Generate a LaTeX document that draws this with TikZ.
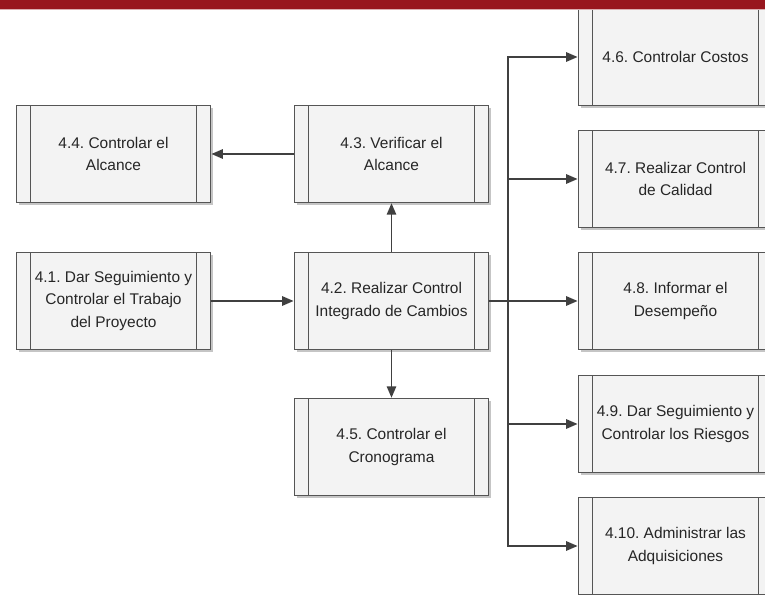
\documentclass[tikz,border=0pt]{standalone}
\usepackage{fontspec}
\setmainfont{Liberation Sans}
\usetikzlibrary{arrows.meta,shadows}
\definecolor{barred}{RGB}{152,22,30}
\definecolor{boxline}{RGB}{85,85,85}
\definecolor{boxfill}{RGB}{243,243,243}
\definecolor{wire}{RGB}{64,64,64}
\tikzset{
  proc/.style={draw=boxline,line width=0.9pt,fill=boxfill,
    minimum width=146pt,minimum height=73pt,inner sep=0pt,align=center,
    font=\fontsize{11.6}{17.2}\selectfont\frenchspacing,text=black!85,
    drop shadow={shadow xshift=1.8pt,shadow yshift=-1.8pt,fill=black!45,opacity=0.5},
    path picture={\draw[boxline,line width=0.9pt]
      ([xshift=11pt]path picture bounding box.north west) -- ([xshift=11pt]path picture bounding box.south west)
      ([xshift=-11pt]path picture bounding box.north east) -- ([xshift=-11pt]path picture bounding box.south east);}},
  arr/.style={draw=wire,line width=1.2pt,-{Triangle[length=8.5pt,width=7pt]}}
}
\begin{document}
\begin{tikzpicture}[x=0.75pt,y=-0.75pt]
\clip (0,0) rectangle (765,595);
\fill[white] (0,0) rectangle (765,595);
\node[proc] (b44) at (113.5,154) {4.4. Controlar el\\Alcance};
\node[proc] (b43) at (391.5,154) {4.3. Verificar el\\Alcance};
\node[proc] (b41) at (113.5,301) {4.1. Dar Seguimiento y\\Controlar el Trabajo\\del Proyecto};
\node[proc] (b42) at (391.5,301) {4.2. Realizar Control\\Integrado de Cambios};
\node[proc] (b45) at (391.5,447) {4.5. Controlar el\\Cronograma};
\node[proc] (b46) at (675.5,57) {4.6. Controlar Costos};
\node[proc] (b47) at (675.5,179) {4.7. Realizar Control\\de Calidad};
\node[proc] (b48) at (675.5,301) {4.8. Informar el\\Desempeño};
\node[proc] (b49) at (675.5,424) {4.9. Dar Seguimiento y\\Controlar los Riesgos};
\node[proc] (b410) at (675.5,546) {4.10. Administrar las\\Adquisiciones};
\coordinate (trunk) at (508,301);
\draw[arr] (b43) -- (b44);
\draw[arr] (b41) -- (b42);
\draw[arr] (b42) -- (b43);
\draw[arr] (b42) -- (b45);
\foreach \n in {b46,b47,b48,b49,b410}
  \draw[arr] (b42.east) -- (trunk) |- (\n.west);
\fill[barred] (0,0) rectangle (765,9);
\draw[barred!35,line width=0.8pt] (0,9.5) -- (765,9.5);
\end{tikzpicture}
\end{document}
